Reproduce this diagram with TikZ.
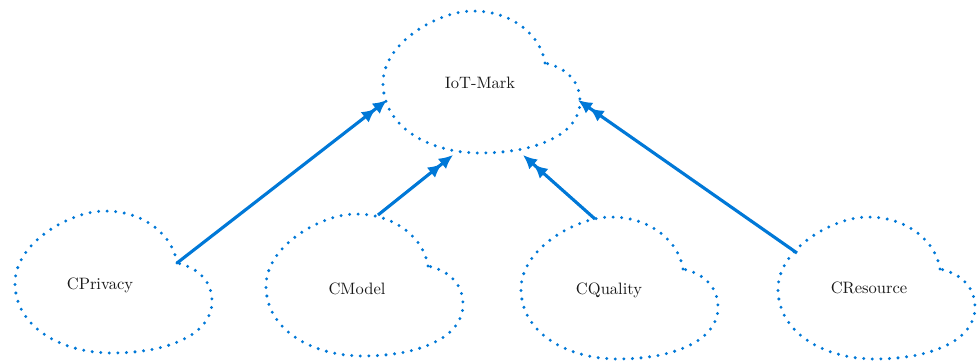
\documentclass[tikz,border=0pt]{standalone}
\usetikzlibrary{arrows.meta}
\definecolor{cblue}{RGB}{0,120,215}
\begin{document}
\begin{tikzpicture}[x=0.606pt,y=-0.606pt,
  cloudline/.style={draw=cblue, line width=2pt, line cap=round, dash pattern=on 0pt off 5.2pt},
  link/.style={draw=cblue, line width=1.9pt, -{Latex[length=8.5pt,width=8pt]Latex[length=8.5pt,width=8pt]}},
  lbl/.style={font=\normalsize, text=black!90, inner sep=0pt},
  cloudshape/.pic={
    \draw[cloudline] (162,52) .. controls (158,25) and (130,0) .. (90,0)
      .. controls (55,0) and (0,32) .. (0,72)
      .. controls (0,115) and (45,142) .. (97,142)
      .. controls (150,142) and (197,125) .. (197,90)
      .. controls (197,72) and (185,57) .. cycle;
    \coordinate (-notch) at (162,52);
  }]
\useasboundingbox (0,0) rectangle (977,363);

% clouds
\pic (iot) at (383,11) {cloudshape};
\pic (priv) at (15,211) {cloudshape};
\pic (model) at (266,214) {cloudshape};
\pic (qual) at (521,217) {cloudshape};
\pic (res) at (778,217) {cloudshape};

% labels
\node[lbl] (tiot) at (480,83) {IoT-Mark};
\node[lbl] (tpriv) at (100,285) {CPrivacy};
\node[lbl] (tmodel) at (357,289) {CModel};
\node[lbl] (tqual) at (609,290) {CQuality};
\node[lbl] (tres) at (869,288) {CResource};

% connector end points on the clouds
\coordinate (iotL) at (387,100);
\coordinate (iotBL) at (453,155);
\coordinate (iotBR) at (523,155);
\coordinate (iotR) at (578,100);
\coordinate (modelT) at (378,215);
\coordinate (qualT) at (595,219);
\coordinate (resL) at (797,253);

% connectors
\draw[link] (priv-notch) -- (iotL);
\draw[link] (modelT) -- (iotBL);
\draw[link] (qualT) -- (iotBR);
\draw[link] (resL) -- (iotR);
\end{tikzpicture}
\end{document}
